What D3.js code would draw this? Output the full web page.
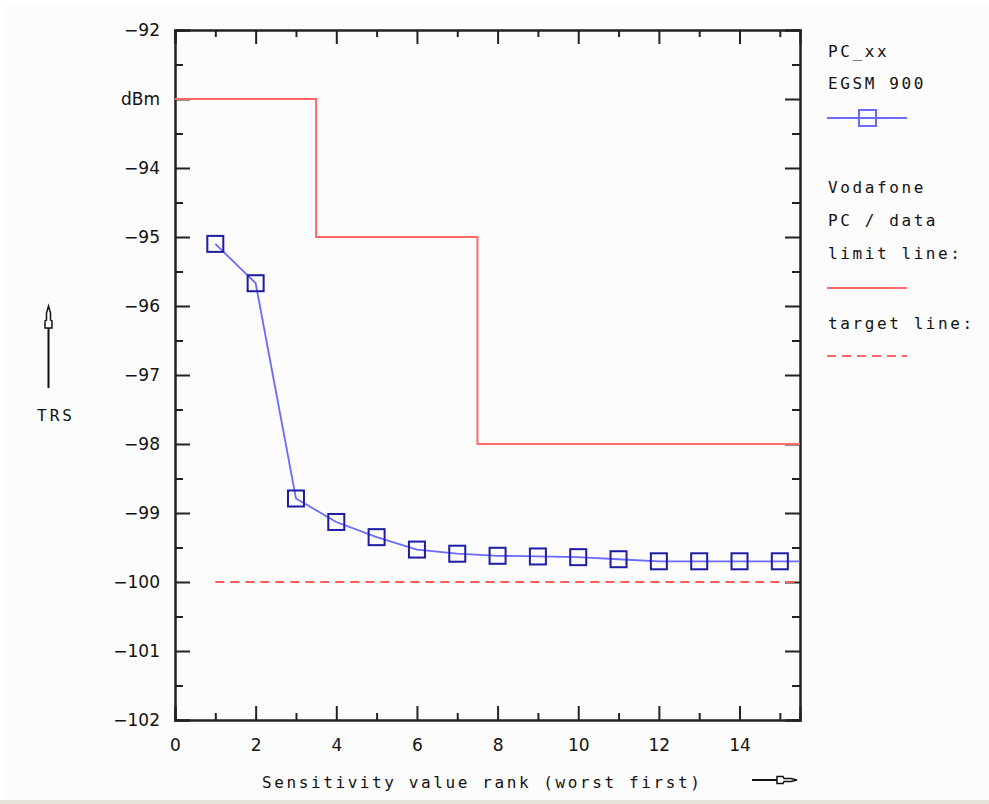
<!DOCTYPE html>
<meta charset="utf-8">
<style>
body { margin: 0; background: #fff; }
svg { display: block; }
.axis path, .axis line { stroke: #222; stroke-width: 2; }
.axis text { font: 17px "DejaVu Sans", sans-serif; fill: #111; }
.mono { font: 16px "DejaVu Sans Mono", monospace; fill: #111; letter-spacing: 2.6px; }
</style>
<body>
<script src="https://d3js.org/d3.v7.min.js"></script>
<script>

// data
var ranks = [1, 2, 3, 4, 5, 6, 7, 8, 9, 10, 11, 12, 13, 14, 15];
var trs = [-95.10, -95.67, -98.79, -99.13, -99.35, -99.53, -99.59, -99.62,
           -99.63, -99.64, -99.67, -99.70, -99.70, -99.70, -99.70];
var limitSteps = [0, 3.5, 7.5, 15.5];      // x breaks of the limit line
var limitValues = [-93, -95, -98];         // level between breaks
var targetRange = [1, 15.5];
var targetValue = -100;
var xTicks = [0, 2, 4, 6, 8, 10, 12, 14];
var yTicks = [-92, -93, -94, -95, -96, -97, -98, -99, -100, -101, -102];

var margin = {top: 30, right: 189, bottom: 84, left: 175},
    width = 989 - margin.left - margin.right,
    height = 804 - margin.top - margin.bottom;

var x = d3.scaleLinear().domain([0, 15.5]).range([0, width]);
var y = d3.scaleLinear().domain([-102, -92]).range([height, 0]);

var root = d3.select("body").append("svg")
    .attr("width", 989)
    .attr("height", 804);

root.append("rect").attr("x", 2).attr("y", 2).attr("width", 987).attr("height", 799)
    .attr("fill", "#fcfcfc");
root.append("rect").attr("x", 0).attr("y", 800).attr("width", 989).attr("height", 4)
    .attr("fill", "#e6e2da");

var svg = root.append("g")
    .attr("transform", "translate(" + margin.left + "," + margin.top + ")");

svg.append("clipPath").attr("id", "clip")
  .append("rect").attr("width", width).attr("height", height);

var fmt = function(d) { return d === -93 ? "dBm" : d3.format("d")(d); };
var halves = d3.range(-101.5, -92, 1);
var odds = d3.range(1, 16, 2);

// left axis
svg.append("g").attr("class", "axis")
    .call(d3.axisLeft(y).tickValues(yTicks).tickFormat(fmt).tickSize(-15).tickPadding(15));
svg.append("g").attr("class", "axis")
    .call(d3.axisLeft(y).tickValues(halves).tickFormat("").tickSize(-8));
// right axis
svg.append("g").attr("class", "axis").attr("transform", "translate(" + width + ",0)")
    .call(d3.axisRight(y).tickValues(yTicks).tickFormat("").tickSize(-15));
svg.append("g").attr("class", "axis").attr("transform", "translate(" + width + ",0)")
    .call(d3.axisRight(y).tickValues(halves).tickFormat("").tickSize(-8));
// bottom axis
svg.append("g").attr("class", "axis").attr("transform", "translate(0," + height + ")")
    .call(d3.axisBottom(x).tickValues(xTicks).tickFormat(d3.format("d")).tickSize(-14).tickPadding(19));
svg.append("g").attr("class", "axis").attr("transform", "translate(0," + height + ")")
    .call(d3.axisBottom(x).tickValues(odds).tickFormat("").tickSize(-7));
// top axis
svg.append("g").attr("class", "axis")
    .call(d3.axisTop(x).tickValues(xTicks).tickFormat("").tickSize(-14));
svg.append("g").attr("class", "axis")
    .call(d3.axisTop(x).tickValues(odds).tickFormat("").tickSize(-7));

var plot = svg.append("g").attr("clip-path", "url(#clip)");

// limit line (step)
var limitPts = [];
limitValues.forEach(function(v, i) {
  limitPts.push([limitSteps[i], v]);
  limitPts.push([limitSteps[i + 1], v]);
});
plot.append("path")
    .datum(limitPts)
    .attr("fill", "none")
    .attr("stroke", "#ff6868")
    .attr("stroke-width", 2)
    .attr("d", d3.line().x(function(d) { return x(d[0]); }).y(function(d) { return y(d[1]); }));

// target line
plot.append("line")
    .attr("x1", x(targetRange[0])).attr("x2", x(targetRange[1]))
    .attr("y1", y(targetValue)).attr("y2", y(targetValue))
    .attr("stroke", "#ff5a5a")
    .attr("stroke-width", 2)
    .attr("stroke-dasharray", "9,6");

// measured series
var pts = ranks.map(function(r, i) { return [r, trs[i]]; });
var linePts = pts.concat([[15.5, trs[trs.length - 1]]]);
plot.append("path")
    .datum(linePts)
    .attr("fill", "none")
    .attr("stroke", "#6a6aff")
    .attr("stroke-width", 1.8)
    .attr("d", d3.line().x(function(d) { return x(d[0]); }).y(function(d) { return y(d[1]); }));

plot.selectAll(".pt")
    .data(pts)
  .enter().append("rect")
    .attr("class", "pt")
    .attr("x", function(d) { return x(d[0]) - 8; })
    .attr("y", function(d) { return y(d[1]) - 8; })
    .attr("width", 16)
    .attr("height", 16)
    .attr("fill", "none")
    .attr("stroke", "#1c1ca4")
    .attr("stroke-width", 2);

// axis titles
root.append("text")
    .attr("class", "mono")
    .attr("x", 262)
    .attr("y", 788)
    .text("Sensitivity value rank (worst first)");

root.append("text")
    .attr("class", "mono")
    .attr("x", 56)
    .attr("y", 421)
    .attr("text-anchor", "middle")
    .style("letter-spacing", "3px")
    .text("TRS");

// arrows
root.append("line").attr("x1", 752).attr("x2", 777).attr("y1", 780).attr("y2", 780)
    .attr("stroke", "#111").attr("stroke-width", 2);
root.append("path")
    .attr("d", "M777,776.5 L783,776.5 L784,778.5 L791,778.5 L797,780 L791,781.5 L784,781.5 L783,783.5 L777,783.5 Z")
    .attr("fill", "#fff").attr("stroke", "#111").attr("stroke-width", 1.5);

root.append("line").attr("x1", 48.5).attr("x2", 48.5).attr("y1", 388).attr("y2", 328)
    .attr("stroke", "#111").attr("stroke-width", 2);
root.append("path")
    .attr("d", "M45,328 L45,321 L46.5,320 L46.5,313 L48.5,306 L50.5,313 L50.5,320 L52,321 L52,328 Z")
    .attr("fill", "#fff").attr("stroke", "#111").attr("stroke-width", 1.5);

// legend
var legend = root.append("g");
var legendText = [["PC_xx", 57], ["EGSM 900", 89], ["Vodafone", 193], ["PC / data", 226],
                  ["limit line:", 259], ["target line:", 329]];
legend.selectAll("text")
    .data(legendText)
  .enter().append("text")
    .attr("class", "mono")
    .attr("x", 828)
    .attr("y", function(d) { return d[1]; })
    .text(function(d) { return d[0]; });

legend.append("line").attr("x1", 827).attr("x2", 907).attr("y1", 118).attr("y2", 118)
    .attr("stroke", "#6a6aff").attr("stroke-width", 2);
legend.append("rect").attr("x", 859).attr("y", 110).attr("width", 17).attr("height", 16)
    .attr("fill", "none").attr("stroke", "#6a6aff").attr("stroke-width", 2);
legend.append("line").attr("x1", 827).attr("x2", 907).attr("y1", 288).attr("y2", 288)
    .attr("stroke", "#ff6868").attr("stroke-width", 2);
legend.append("line").attr("x1", 827).attr("x2", 907).attr("y1", 356).attr("y2", 356)
    .attr("stroke", "#ff6868").attr("stroke-width", 2).attr("stroke-dasharray", "9,6");

</script>
</body>
